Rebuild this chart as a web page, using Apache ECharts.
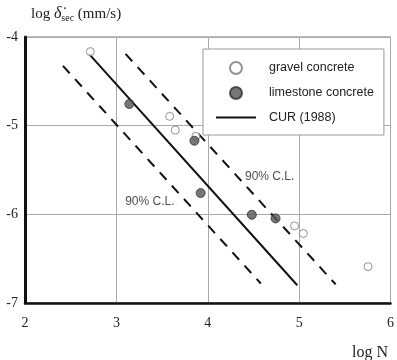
<!DOCTYPE html>
<html>
<head>
<meta charset="utf-8">
<script src="https://cdn.jsdelivr.net/npm/echarts@6/dist/echarts.min.js"></script>
<style>html,body{margin:0;padding:0;background:#fff;}#c{width:397px;height:360px;}</style>
</head>
<body>
<div id="c"></div>
<script>
const xTicks = [2, 3, 4, 5, 6];
const yTicks = [-7, -6, -5, -4];
const gravel = [[2.715,-4.165],[3.583,-4.895],[3.644,-5.05],[3.87,-5.12],[4.95,-6.13],[5.046,-6.216],[5.754,-6.59]];
const limestone = [[3.142,-4.755],[3.854,-5.17],[3.922,-5.76],[4.482,-6.005],[4.742,-6.046]];
const cur = [[2.70,-4.19],[4.98,-6.80]];
const upperCL = [[3.10,-4.19],[5.40,-6.79]];
const lowerCL = [[2.415,-4.325],[4.58,-6.78]];
const clLabels = [[4.678,-5.58],[3.366,-5.862]];
const clText = '90% C.L.';

const chart = echarts.init(document.getElementById('c'), null, {renderer:'canvas'});
const serif = 'Liberation Serif';
const sans = 'Liberation Sans';
chart.setOption({
  animation: false,
  backgroundColor: '#fff',
  title: [
    {
      left: 26, top: 0,
      text: '{a|log }{d|δ̇}{s|sec}{a| (mm/s)}',
      textStyle: {
        fontWeight: 'normal',
        rich: {
          a: {fontFamily: serif, fontSize: 15, fontWeight: 'normal', color: '#222'},
          d: {fontFamily: serif, fontSize: 16, fontWeight: 'normal', fontStyle: 'italic', color: '#222'},
          s: {fontFamily: serif, fontSize: 10, fontWeight: 'normal', color: '#222', verticalAlign: 'bottom', padding: [8,0,0,0]}
        }
      }
    },
    {
      right: 4, top: 340,
      text: 'log N',
      textStyle: {fontFamily: serif, fontSize: 16, fontWeight: 'normal', color: '#222'}
    }
  ],
  grid: {left: 25, right: 3, top: 37, bottom: 57, show: true, borderColor: '#777', borderWidth: 1},
  legend: {
    orient: 'vertical',
    left: 203, top: 49,
    padding: [12, 10, 11, 12],
    itemWidth: 40, itemHeight: 12, itemGap: 11,
    borderColor: '#999', borderWidth: 1,
    backgroundColor: '#fff',
    textStyle: {fontFamily: sans, fontSize: 12.5, color: '#222', padding: [0,0,0,8]},
    data: ['gravel concrete', 'limestone concrete', 'CUR (1988)']
  },
  xAxis: {
    type: 'value', min: 2, max: 6, interval: 1,
    axisLine: {show: true, onZero: false, lineStyle: {color: '#111', width: 2.5}},
    axisTick: {show: false},
    axisLabel: {fontFamily: serif, fontSize: 14, color: '#222', margin: 13,
      formatter: v => xTicks.includes(v) ? String(v) : ''},
    splitLine: {show: true, lineStyle: {color: '#aaa', width: 1}}
  },
  yAxis: {
    type: 'value', min: -7, max: -4, interval: 1,
    axisLine: {show: true, onZero: false, lineStyle: {color: '#111', width: 3}},
    axisTick: {show: false},
    axisLabel: {fontFamily: serif, fontSize: 14, color: '#222', margin: 7,
      formatter: v => yTicks.includes(v) ? String(v) : ''},
    splitLine: {show: true, lineStyle: {color: '#aaa', width: 1}}
  },
  series: [
    {name: 'upper', type: 'line', data: upperCL, symbol: 'none', z: 2,
      lineStyle: {color: '#111', width: 2, type: [10, 8]}},
    {name: 'lower', type: 'line', data: lowerCL, symbol: 'none', z: 2,
      lineStyle: {color: '#111', width: 2, type: [10, 8]}},
    {name: 'CUR (1988)', type: 'line', data: cur, symbol: 'none', z: 3,
      itemStyle: {color: '#111', opacity: 0},
      lineStyle: {color: '#111', width: 2}},
    {name: 'gravel concrete', type: 'scatter', data: gravel, symbol: 'circle', symbolSize: 8, z: 5,
      itemStyle: {color: '#fff', borderColor: '#777', borderWidth: 1}},
    {name: 'limestone concrete', type: 'scatter', data: limestone, symbol: 'circle', symbolSize: 9, z: 5,
      itemStyle: {color: '#555', borderColor: '#333', borderWidth: 1}},
    {name: 'labels', type: 'scatter', data: clLabels, symbolSize: 0, z: 6,
      label: {show: true, position: 'inside', formatter: clText, fontFamily: sans, fontSize: 12, color: '#222'}}
  ]
});
</script>
</body>
</html>
